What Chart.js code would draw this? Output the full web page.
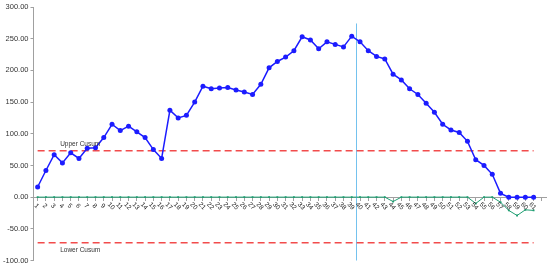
<!DOCTYPE html>
<html lang="en">
<head>
<meta charset="UTF-8">
<title>Cusum chart</title>
<script src="https://cdn.jsdelivr.net/npm/chart.js"></script>
<style>
  html, body { margin: 0; padding: 0; background: #fff; }
  #wrap { width: 550px; height: 267px; position: relative; }
</style>
</head>
<body>
<div id="wrap"><canvas id="cusumChart"></canvas></div>
<script>
// categories (last one is an empty slot, like the source sheet)
const categories = ['1','2','3','4','5','6','7','8','9','10',
  '11','12','13','14','15','16','17','18','19','20',
  '21','22','23','24','25','26','27','28','29','30',
  '31','32','33','34','35','36','37','38','39','40',
  '41','42','43','44','45','46','47','48','49','50',
  '51','52','53','54','55','56','57','58','59','60','61',''];

// upper cusum (blue)
const upperCusum = [16, 42, 67, 54, 70, 61, 77, 78, 94, 115,
  105, 112, 103, 94, 75, 61, 137, 125, 129, 150,
  175, 171, 172, 173, 169, 166, 162, 178, 204, 214,
  221, 231, 253, 248, 234, 245, 241, 237, 254, 245,
  231, 222, 218, 194, 185, 171, 162, 148, 134, 115,
  106, 102, 88, 59, 50, 36, 6, 0, 0, 0, 0];

// lower cusum (green)
const lowerCusum = [0, 0, 0, 0, 0, 0, 0, 0, 0, 0,
  0, 0, 0, 0, 0, 0, 0, 0, 0, 0,
  0, 0, 0, 0, 0, 0, 0, 0, 0, 0,
  0, 0, 0, 0, 0, 0, 0, 0, 0, 0,
  0, 0, 0, -7, 0, 0, 0, 0, 0, 0,
  0, 0, 0, -10, 0, 0, -8, -21, -29, -20, -21];

const upperLimit = 73;
const lowerLimit = -72;
const shiftAfter = '39';      // vertical marker sits between 39 and 40
const shiftTop = 274;

const yMin = -100, yMax = 300, yStep = 50;

const font = 'Liberation Sans, Arial, sans-serif';

const extras = {
  id: 'extras',
  beforeDatasetsDraw(chart) {
    const { ctx, scales: { x, y } } = chart;
    const i = categories.indexOf(shiftAfter);
    const xm = Math.round((x.getPixelForValue(i) + x.getPixelForValue(i + 1)) / 2) + 0.5;
    ctx.save();
    ctx.strokeStyle = '#74c2ee';
    ctx.lineWidth = 1;
    ctx.beginPath();
    ctx.moveTo(xm, y.getPixelForValue(shiftTop));
    ctx.lineTo(xm, y.getPixelForValue(yMin));
    ctx.stroke();
    ctx.restore();
  },
  afterDraw(chart) {
    const { ctx, scales: { x, y } } = chart;
    ctx.save();
    ctx.fillStyle = '#333';
    ctx.font = '6.5px ' + font;
    ctx.textAlign = 'left';
    ctx.textBaseline = 'middle';
    const lx = x.getPixelForValue(2) + 6;
    ctx.fillText('Upper Cusum', lx, y.getPixelForValue(upperLimit) - 7);
    ctx.fillText('Lower Cusum', lx, y.getPixelForValue(lowerLimit) + 7.5);

    // rotated category labels
    const y0 = y.getPixelForValue(0);
    ctx.fillStyle = '#222';
    ctx.font = '6.5px ' + font;
    ctx.textAlign = 'center';
    categories.forEach((c, i) => {
      if (!c) return;
      ctx.save();
      ctx.translate(x.getPixelForValue(i) - 1, y0 + 9);
      ctx.rotate(Math.PI / 4);
      ctx.fillText(c, 0, 0);
      ctx.restore();
    });
    ctx.restore();
  }
};

new Chart(document.getElementById('cusumChart'), {
  type: 'line',
  data: {
    labels: categories,
    datasets: [
      {
        label: 'Upper',
        data: upperCusum,
        borderColor: '#1c1cff',
        backgroundColor: '#1c1cff',
        borderWidth: 1.5,
        pointRadius: 2.5,
        pointBorderWidth: 0,
        order: 0
      },
      {
        label: 'Lower',
        data: lowerCusum,
        borderColor: '#1f9e72',
        backgroundColor: '#1f9e72',
        borderWidth: 1,
        pointStyle: 'rect',
        pointRadius: 1.3,
        pointBorderWidth: 0,
        order: 1
      },
      {
        label: 'Upper Cusum',
        data: [{ x: '1', y: upperLimit }, { x: '61', y: upperLimit }],
        borderColor: '#f24c4c',
        borderDash: [7, 4],
        borderWidth: 1.5,
        pointRadius: 0,
        order: 2
      },
      {
        label: 'Lower Cusum',
        data: [{ x: '1', y: lowerLimit }, { x: '61', y: lowerLimit }],
        borderColor: '#f24c4c',
        borderDash: [7, 4],
        borderWidth: 1.5,
        pointRadius: 0,
        order: 2
      }
    ]
  },
  options: {
    responsive: true,
    maintainAspectRatio: false,
    animation: false,
    layout: { padding: { top: 7, bottom: 6, right: 4, left: 0 } },
    plugins: { legend: { display: false }, tooltip: { enabled: false } },
    scales: {
      x: {
        type: 'category',
        offset: true,
        position: { y: 0 },
        grid: { drawOnChartArea: false, drawTicks: true, tickLength: 3, color: '#a0a0a0', offset: false },
        border: { color: '#a0a0a0' },
        ticks: { display: false }
      },
      y: {
        min: yMin,
        max: yMax,
        afterFit(scale) { scale.width = 33.5; },
        grid: { drawOnChartArea: false, drawTicks: true, tickLength: 3, color: '#a0a0a0' },
        border: { color: '#a0a0a0' },
        ticks: {
          stepSize: yStep,
          padding: 2,
          color: '#333',
          font: { family: font, size: 7.5 },
          callback: v => v.toFixed(2)
        }
      }
    }
  },
  plugins: [extras]
});
</script>
</body>
</html>
